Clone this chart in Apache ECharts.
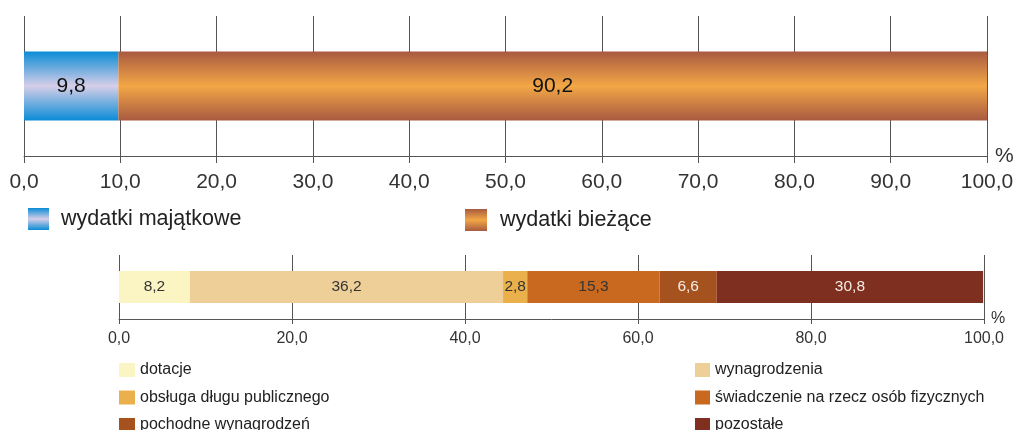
<!DOCTYPE html>
<html>
<head>
<meta charset="utf-8">
<script src="https://cdn.jsdelivr.net/npm/echarts@6/dist/echarts.min.js"></script>
<style>html,body{margin:0;padding:0;background:#fff}#c{width:1017px;height:430px}</style>
</head>
<body>
<div id="c"></div>
<script>
const topNames = ['wydatki majątkowe', 'wydatki bieżące'];
const topValues = [9.8, 90.2];
const bottomNames = ['dotacje', 'wynagrodzenia', 'obsługa długu publicznego', 'świadczenie na rzecz osób fizycznych', 'pochodne wynagrodzeń', 'pozostałe'];
const bottomValues = [8.2, 36.2, 2.8, 15.3, 6.6, 30.8];
const topTicks = [0, 10, 20, 30, 40, 50, 60, 70, 80, 90, 100];
const bottomTicks = [0, 20, 40, 60, 80, 100];

const fmt = v => v.toFixed(1).replace('.', ',');
const FONT = 'Liberation Sans, Arial, sans-serif';

const grad = (a, b) => new echarts.graphic.LinearGradient(0, 0, 0, 1, [
  {offset: 0, color: a}, {offset: 0.5, color: b}, {offset: 1, color: a}
]);
const topColors = [grad('#0A8CD6', '#D6CEE8'), grad('#A85A40', '#F3A746')];
const bottomColors = ['#FAF5C3', '#EFCF98', '#E9B04C', '#C9691F', '#A5521E', '#7F2F1F'];
const bottomLabelColors = ['#333', '#333', '#333', '#333', '#f4ece4', '#f4ece4'];

const series = [];
topNames.forEach((n, i) => series.push({
  name: n, type: 'bar', stack: 'top', xAxisIndex: 0, yAxisIndex: 0,
  barWidth: 69, data: [topValues[i]],
  itemStyle: {color: topColors[i]},
  label: {show: true, position: 'inside', formatter: p => fmt(p.value), fontSize: 21, color: '#111', fontFamily: FONT}
}));
bottomNames.forEach((n, i) => series.push({
  name: n, type: 'bar', stack: 'bottom', xAxisIndex: 1, yAxisIndex: 1,
  barWidth: 32, data: [bottomValues[i]],
  itemStyle: {color: bottomColors[i]},
  label: {show: true, position: 'inside', formatter: p => fmt(p.value), fontSize: 15.5, color: bottomLabelColors[i], fontFamily: FONT}
}));

const xAx = (gi, ticks, fs, margin, tickLen, nameGap, namePad) => ({
  type: 'value', gridIndex: gi, min: ticks[0], max: ticks[ticks.length - 1],
  interval: ticks[1] - ticks[0],
  name: '%', nameLocation: 'end', nameGap: nameGap,
  nameTextStyle: {fontSize: fs, color: '#333', fontFamily: FONT, padding: namePad},
  axisLine: {show: true, lineStyle: {color: '#555', width: 1}},
  axisTick: {show: true, length: tickLen, lineStyle: {color: '#555'}},
  splitLine: {show: true, lineStyle: {color: '#555', width: 1}},
  axisLabel: {fontSize: fs, color: '#333', margin: margin, fontFamily: FONT, formatter: v => fmt(v)}
});

const legendBase = (names, left, top, fs, w, h, gap, orient, textPad) => ({
  data: names, left: left, top: top, orient: orient || 'horizontal',
  width: 500, height: 150,
  itemWidth: w, itemHeight: h, itemGap: gap, padding: 0,
  selectedMode: false, icon: 'rect',
  textStyle: {fontSize: fs, color: '#222', fontFamily: FONT, padding: textPad, lineHeight: h}
});

const option = {
  animation: false,
  grid: [
    {left: 24, right: 30, top: 16, height: 140},
    {left: 119, right: 33, top: 255, height: 64}
  ],
  xAxis: [
    xAx(0, topTicks, 21, 16, 7, 8, [0, 0, -6, 0]),
    xAx(1, bottomTicks, 16, 12, 5, 7, [0, 0, 20, 0])
  ],
  yAxis: [
    {type: 'category', gridIndex: 0, data: [''], show: false},
    {type: 'category', gridIndex: 1, data: [''], show: false}
  ],
  legend: [
    legendBase([topNames[0]], 28, 208, 21.5, 21, 22, 10, 'horizontal', [0, 0, 0, 7]),
    legendBase([topNames[1]], 465, 209, 21.5, 22, 22, 10, 'horizontal', [0, 0, 0, 8]),
    legendBase([bottomNames[0], bottomNames[2], bottomNames[4]], 119, 362, 16, 16, 14, 11.5, 'vertical', [0, 0, 0, 0]),
    legendBase([bottomNames[1], bottomNames[3], bottomNames[5]], 695, 362, 16, 15, 14, 11.5, 'vertical', [0, 0, 0, 0])
  ],
  series: series
};

const chart = echarts.init(document.getElementById('c'), null, {renderer: 'canvas'});
chart.setOption(option);
</script>
</body>
</html>
